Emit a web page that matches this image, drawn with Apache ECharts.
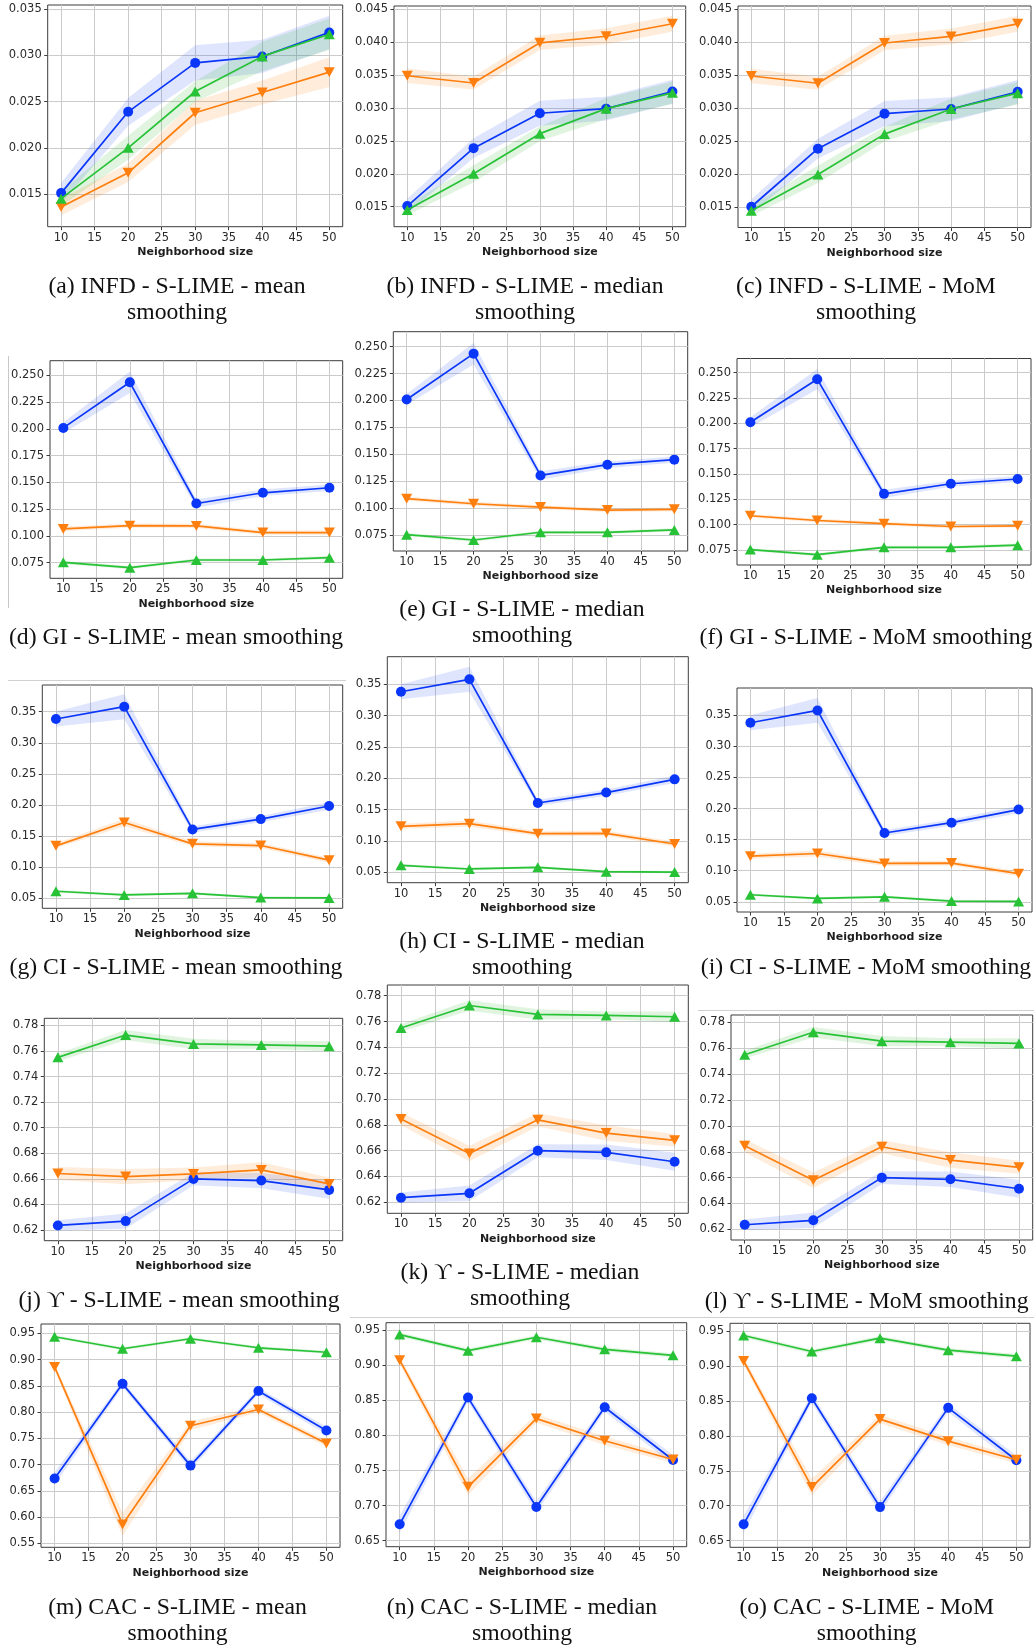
<!DOCTYPE html>
<html><head><meta charset="utf-8">
<script src="https://cdn.jsdelivr.net/npm/echarts@6/dist/echarts.min.js"></script>
<style>html,body{margin:0;padding:0;background:#fff}#chart{width:1034px;height:1645px}</style>
</head><body><div id="chart"></div>
<script>
// ---------------- data ----------------
const neighborhoodSizes = [10, 20, 30, 40, 50];
const xTickValues = [10, 15, 20, 25, 30, 35, 40, 45, 50];

const infdTicksMean = [0.015, 0.020, 0.025, 0.030, 0.035];
const infdTicksMedian = [0.015, 0.020, 0.025, 0.030, 0.035, 0.040, 0.045];
const giTicks = [0.075, 0.100, 0.125, 0.150, 0.175, 0.200, 0.225, 0.250];
const ciTicks = [0.05, 0.10, 0.15, 0.20, 0.25, 0.30, 0.35];
const upsTicks = [0.62, 0.64, 0.66, 0.68, 0.70, 0.72, 0.74, 0.76, 0.78];
const cacTicksMean = [0.55, 0.60, 0.65, 0.70, 0.75, 0.80, 0.85, 0.90, 0.95];
const cacTicksMedian = [0.65, 0.70, 0.75, 0.80, 0.85, 0.90, 0.95];

// INFD
const infdBlue = [0.0151, 0.0239, 0.0292, 0.0299, 0.0325];
const infdBlueStd = [0.0011, 0.0015, 0.0019, 0.0018, 0.0018];
const infdGreen = [0.0145, 0.0200, 0.0261, 0.0299, 0.0323];
const infdGreenStd = [0.0008, 0.0013, 0.0011, 0.0016, 0.0017];
const infdOrangeMean = [0.0136, 0.0173, 0.0238, 0.0260, 0.0282];
const infdOrangeMeanStd = [0.0009, 0.0010, 0.0013, 0.0013, 0.0016];
const infdOrangeMedian = [0.0349, 0.0338, 0.0399, 0.0409, 0.0428];
const infdOrangeMedianStd = [0.0011, 0.0010, 0.0011, 0.0012, 0.0012];
const infdOrangeMoM = [0.0349, 0.0338, 0.0399, 0.0409, 0.0428];
const infdOrangeMoMStd = [0.0011, 0.0010, 0.0011, 0.0012, 0.0012];

// GI
const giBlue = [0.2009, 0.2435, 0.1303, 0.1403, 0.1450];
const giBlueStd = [0.0050, 0.0100, 0.0040, 0.0030, 0.0030];
const giGreen = [0.0753, 0.0703, 0.0775, 0.0775, 0.0797];
const giGreenStd = [0.0015, 0.0015, 0.0015, 0.0015, 0.0015];
const giOrangeMean = [0.1065, 0.1096, 0.1093, 0.1031, 0.1031];
const giOrangeMeanStd = [0.0020, 0.0020, 0.0020, 0.0020, 0.0020];
const giOrangeMedian = [0.1087, 0.1040, 0.1009, 0.0981, 0.0988];
const giOrangeMedianStd = [0.0018, 0.0018, 0.0018, 0.0018, 0.0018];
const giOrangeMoM = [0.1087, 0.1040, 0.1009, 0.0981, 0.0988];
const giOrangeMoMStd = [0.0018, 0.0018, 0.0018, 0.0018, 0.0018];

// CI
const ciBlue = [0.3382, 0.3580, 0.1607, 0.1773, 0.1984];
const ciBlueStd = [0.012, 0.020, 0.005, 0.005, 0.006];
const ciGreen = [0.0613, 0.0554, 0.0580, 0.0511, 0.0505];
const ciGreenStd = [0.002, 0.002, 0.002, 0.002, 0.002];
const ciOrangeMean = [0.1343, 0.1718, 0.1375, 0.1348, 0.1113];
const ciOrangeMeanStd = [0.004, 0.006, 0.004, 0.004, 0.004];
const ciOrangeMedian = [0.1234, 0.1277, 0.1117, 0.1122, 0.0952];
const ciOrangeMedianStd = [0.004, 0.005, 0.004, 0.004, 0.004];
const ciOrangeMoM = [0.1234, 0.1277, 0.1117, 0.1122, 0.0952];
const ciOrangeMoMStd = [0.004, 0.005, 0.004, 0.004, 0.004];

// Upsilon
const upsBlue = [0.6236, 0.6270, 0.6600, 0.6587, 0.6514];
const upsBlueStd = [0.004, 0.006, 0.005, 0.006, 0.007];
const upsGreen = [0.7550, 0.7724, 0.7655, 0.7647, 0.7637];
const upsGreenStd = [0.003, 0.004, 0.004, 0.003, 0.004];
const upsOrangeMean = [0.6642, 0.6618, 0.6639, 0.6670, 0.6561];
const upsOrangeMeanStd = [0.005, 0.006, 0.005, 0.006, 0.005];
const upsOrangeMedian = [0.6846, 0.6579, 0.6839, 0.6736, 0.6680];
const upsOrangeMedianStd = [0.005, 0.006, 0.005, 0.006, 0.005];
const upsOrangeMoM = [0.6846, 0.6579, 0.6839, 0.6736, 0.6680];
const upsOrangeMoMStd = [0.005, 0.006, 0.005, 0.006, 0.005];

// CAC
const cacBlue = [0.6734, 0.8538, 0.6980, 0.8400, 0.7650];
const cacBlueStd = [0.012, 0.006, 0.008, 0.006, 0.007];
const cacGreen = [0.9435, 0.9206, 0.9397, 0.9225, 0.9140];
const cacGreenStd = [0.003, 0.003, 0.003, 0.003, 0.003];
const cacOrangeMean = [0.8860, 0.5860, 0.7740, 0.8050, 0.7400];
const cacOrangeMeanStd = [0.005, 0.022, 0.008, 0.006, 0.006];
const cacOrangeMedian = [0.9071, 0.7267, 0.8239, 0.7924, 0.7657];
const cacOrangeMedianStd = [0.005, 0.012, 0.006, 0.006, 0.005];
const cacOrangeMoM = [0.9071, 0.7267, 0.8239, 0.7924, 0.7657];
const cacOrangeMoMStd = [0.005, 0.012, 0.006, 0.006, 0.005];

const captions = [
  ['(a) INFD - S-LIME - mean', 'smoothing'],
  ['(b) INFD - S-LIME - median', 'smoothing'],
  ['(c) INFD - S-LIME - MoM', 'smoothing'],
  ['(d) GI - S-LIME - mean smoothing'],
  ['(e) GI - S-LIME - median', 'smoothing'],
  ['(f) GI - S-LIME - MoM smoothing'],
  ['(g) CI - S-LIME - mean smoothing'],
  ['(h) CI - S-LIME - median', 'smoothing'],
  ['(i) CI - S-LIME - MoM smoothing'],
  ['(j) \u03D2 - S-LIME - mean smoothing'],
  ['(k) \u03D2 - S-LIME - median', 'smoothing'],
  ['(l) \u03D2 - S-LIME - MoM smoothing'],
  ['(m) CAC - S-LIME - mean', 'smoothing'],
  ['(n) CAC - S-LIME - median', 'smoothing'],
  ['(o) CAC - S-LIME - MoM', 'smoothing']
];

// ---------------- layout ----------------
const panels = [
  {L:47.7, T:5, R:342.7, B:226.7, ymin:0.01146, ymax:0.03547, ticks:infdTicksMean, dec:3,
   blue:[infdBlue,infdBlueStd], green:[infdGreen,infdGreenStd], orange:[infdOrangeMean,infdOrangeMeanStd], cx:177, cy:286.5},
  {L:394, T:6, R:685.7, B:226.7, ymin:0.01196, ymax:0.0455, ticks:infdTicksMedian, dec:3,
   blue:[infdBlue,infdBlueStd], green:[infdGreen,infdGreenStd], orange:[infdOrangeMedian,infdOrangeMedianStd], cx:525, cy:286.5},
  {L:738, T:6, R:1031, B:227.5, ymin:0.01196, ymax:0.0455, ticks:infdTicksMedian, dec:3,
   blue:[infdBlue,infdBlueStd], green:[infdGreen,infdGreenStd], orange:[infdOrangeMoM,infdOrangeMoMStd], cx:866, cy:286.5},

  {L:50, T:360.7, R:342.7, B:578.3, ymin:0.0604, ymax:0.2637, ticks:giTicks, dec:3,
   blue:[giBlue,giBlueStd], green:[giGreen,giGreenStd], orange:[giOrangeMean,giOrangeMeanStd], cx:176, cy:637.5},
  {L:393.3, T:331.7, R:687.7, B:551, ymin:0.0601, ymax:0.2639, ticks:giTicks, dec:3,
   blue:[giBlue,giBlueStd], green:[giGreen,giGreenStd], orange:[giOrangeMedian,giOrangeMedianStd], cx:522, cy:610},
  {L:737, T:358.5, R:1031, B:565, ymin:0.0601, ymax:0.2639, ticks:giTicks, dec:3,
   blue:[giBlue,giBlueStd], green:[giGreen,giGreenStd], orange:[giOrangeMoM,giOrangeMoMStd], cx:866, cy:637.5},

  {L:42.3, T:685, R:342.7, B:908.3, ymin:0.0339, ymax:0.3929, ticks:ciTicks, dec:2,
   blue:[ciBlue,ciBlueStd], green:[ciGreen,ciGreenStd], orange:[ciOrangeMean,ciOrangeMeanStd], cx:176, cy:968},
  {L:387.3, T:656.7, R:688.3, B:882.7, ymin:0.0335, ymax:0.3941, ticks:ciTicks, dec:2,
   blue:[ciBlue,ciBlueStd], green:[ciGreen,ciGreenStd], orange:[ciOrangeMedian,ciOrangeMedianStd], cx:522, cy:941.5},
  {L:737, T:688, R:1032, B:912, ymin:0.0335, ymax:0.3941, ticks:ciTicks, dec:2,
   blue:[ciBlue,ciBlueStd], green:[ciGreen,ciGreenStd], orange:[ciOrangeMoM,ciOrangeMoMStd], cx:866, cy:968},

  {L:44.3, T:1018.3, R:342.7, B:1240.7, ymin:0.6117, ymax:0.7855, ticks:upsTicks, dec:2,
   blue:[upsBlue,upsBlueStd], green:[upsGreen,upsGreenStd], orange:[upsOrangeMean,upsOrangeMeanStd], cx:179, cy:1300.5},
  {L:387.3, T:985, R:688.3, B:1213.3, ymin:0.6115, ymax:0.7883, ticks:upsTicks, dec:2,
   blue:[upsBlue,upsBlueStd], green:[upsGreen,upsGreenStd], orange:[upsOrangeMedian,upsOrangeMedianStd], cx:520, cy:1272.5},
  {L:731, T:1015, R:1032.7, B:1240, ymin:0.6118, ymax:0.7857, ticks:upsTicks, dec:2,
   blue:[upsBlue,upsBlueStd], green:[upsGreen,upsGreenStd], orange:[upsOrangeMoM,upsOrangeMoMStd], cx:866.7, cy:1301.5},

  {L:41, T:1324, R:340, B:1547.3, ymin:0.5424, ymax:0.9678, ticks:cacTicksMean, dec:2,
   blue:[cacBlue,cacBlueStd], green:[cacGreen,cacGreenStd], orange:[cacOrangeMean,cacOrangeMeanStd], cx:177.5, cy:1608},
  {L:386, T:1322.7, R:686.7, B:1546.7, ymin:0.6415, ymax:0.9604, ticks:cacTicksMedian, dec:2,
   blue:[cacBlue,cacBlueStd], green:[cacGreen,cacGreenStd], orange:[cacOrangeMedian,cacOrangeMedianStd], cx:522, cy:1608},
  {L:730, T:1323.3, R:1030, B:1547.3, ymin:0.6405, ymax:0.961, ticks:cacTicksMedian, dec:2,
   blue:[cacBlue,cacBlueStd], green:[cacGreen,cacGreenStd], orange:[cacOrangeMoM,cacOrangeMoMStd], cx:866.7, cy:1608}
];

const BLUE = '#0a36fa', ORANGE = '#ff7f0e', GREEN = '#27c236';
const BLUE_BAND = 'rgba(40,80,240,0.15)', ORANGE_BAND = 'rgba(255,127,14,0.15)', GREEN_BAND = 'rgba(44,180,44,0.15)';
const TICK_FONT = 'DejaVu Sans';
const CAPTION_LINE = 26.2;

function bandSeries(gi, mean, std, fill) {
  return {
    type: 'custom', xAxisIndex: gi, yAxisIndex: gi, silent: true, z: 1,
    data: neighborhoodSizes.map((x, k) => [x, mean[k] - std[k], mean[k] + std[k]]),
    encode: {x: 0, y: [1, 2]},
    renderItem: function (params, api) {
      if (params.dataIndex !== 0) return null;
      const pts = [];
      for (let k = 0; k < neighborhoodSizes.length; k++) pts.push(api.coord([neighborhoodSizes[k], mean[k] + std[k]]));
      for (let k = neighborhoodSizes.length - 1; k >= 0; k--) pts.push(api.coord([neighborhoodSizes[k], mean[k] - std[k]]));
      return {type: 'polygon', shape: {points: pts}, style: {fill: fill}};
    }
  };
}
function lineSeries(gi, vals, color, symbol, size, rotate, z) {
  return {
    type: 'line', xAxisIndex: gi, yAxisIndex: gi, silent: true, z: z,
    data: neighborhoodSizes.map((x, k) => [x, vals[k]]),
    symbol: symbol, symbolSize: size, symbolRotate: rotate, showSymbol: true,
    lineStyle: {color: color, width: 1.7},
    itemStyle: {color: color, borderWidth: 0},
    emphasis: {disabled: true}
  };
}

const grids = [], xAxes = [], yAxes = [], series = [], graphics = [];
panels.forEach((p, i) => {
  grids.push({left: p.L, top: p.T, width: p.R - p.L, height: p.B - p.T, show: true,
    borderColor: '#3c3c3c', borderWidth: 1, backgroundColor: 'transparent', containLabel: false});
  xAxes.push({type: 'value', gridIndex: i, min: 8, max: 52,
    axisLine: {show: false, onZero: false},
    axisTick: {show: true, length: 3.5, lineStyle: {color: '#3c3c3c'}, customValues: xTickValues},
    axisLabel: {customValues: xTickValues, margin: 5, fontSize: 11.5, fontFamily: TICK_FONT, color: '#2a2a2a'},
    splitLine: {show: true, lineStyle: {color: '#cbcbcb', width: 1}},
    name: 'Neighborhood size', nameLocation: 'middle', nameGap: 25.5,
    nameTextStyle: {fontFamily: TICK_FONT, fontWeight: 'bold', fontSize: 11, color: '#1e1e1e', verticalAlign: 'middle'}
  });
  yAxes.push({type: 'value', gridIndex: i, min: p.ymin, max: p.ymax,
    axisLine: {show: false, onZero: false},
    axisTick: {show: true, length: 3.5, lineStyle: {color: '#3c3c3c'}, customValues: p.ticks},
    axisLabel: {customValues: p.ticks, margin: 6, fontSize: 11.5, fontFamily: TICK_FONT, color: '#2a2a2a',
      formatter: (v) => Number(v).toFixed(p.dec)},
    splitLine: {show: true, lineStyle: {color: '#cbcbcb', width: 1}}
  });
  series.push(bandSeries(i, p.blue[0], p.blue[1], BLUE_BAND));
  series.push(bandSeries(i, p.orange[0], p.orange[1], ORANGE_BAND));
  series.push(bandSeries(i, p.green[0], p.green[1], GREEN_BAND));
  series.push(lineSeries(i, p.blue[0], BLUE, 'circle', 10, 0, 3));
  series.push(lineSeries(i, p.orange[0], ORANGE, 'triangle', [11, 10], 180, 4));
  series.push(lineSeries(i, p.green[0], GREEN, 'triangle', [11, 10], 0, 5));

  const cap = captions[i];
  cap.forEach((line, j) => {
    graphics.push({type: 'text', x: p.cx, y: p.cy + j * CAPTION_LINE, silent: true,
      style: {text: line, fill: '#111', font: '23.7px "Liberation Serif", "DejaVu Serif", serif',
        textAlign: 'center', textVerticalAlign: 'middle'}});
  });
});

// faint scan artefact lines
graphics.push({type: 'line', silent: true, shape: {x1: 8.5, y1: 356, x2: 8.5, y2: 608}, style: {stroke: '#c8c8c8', lineWidth: 1}});
graphics.push({type: 'line', silent: true, shape: {x1: 8, y1: 680.5, x2: 346, y2: 680.5}, style: {stroke: '#d0d0d0', lineWidth: 1}});
graphics.push({type: 'line', silent: true, shape: {x1: 698, y1: 1010.5, x2: 1034, y2: 1010.5}, style: {stroke: '#d0d0d0', lineWidth: 1}});
graphics.push({type: 'line', silent: true, shape: {x1: 350, y1: 1317.5, x2: 1034, y2: 1317.5}, style: {stroke: '#d0d0d0', lineWidth: 1}});

const chart = echarts.init(document.getElementById('chart'), null, {renderer: 'canvas'});
chart.setOption({
  animation: false,
  backgroundColor: '#ffffff',
  grid: grids, xAxis: xAxes, yAxis: yAxes, series: series, graphic: graphics
});
</script>
</body></html>
